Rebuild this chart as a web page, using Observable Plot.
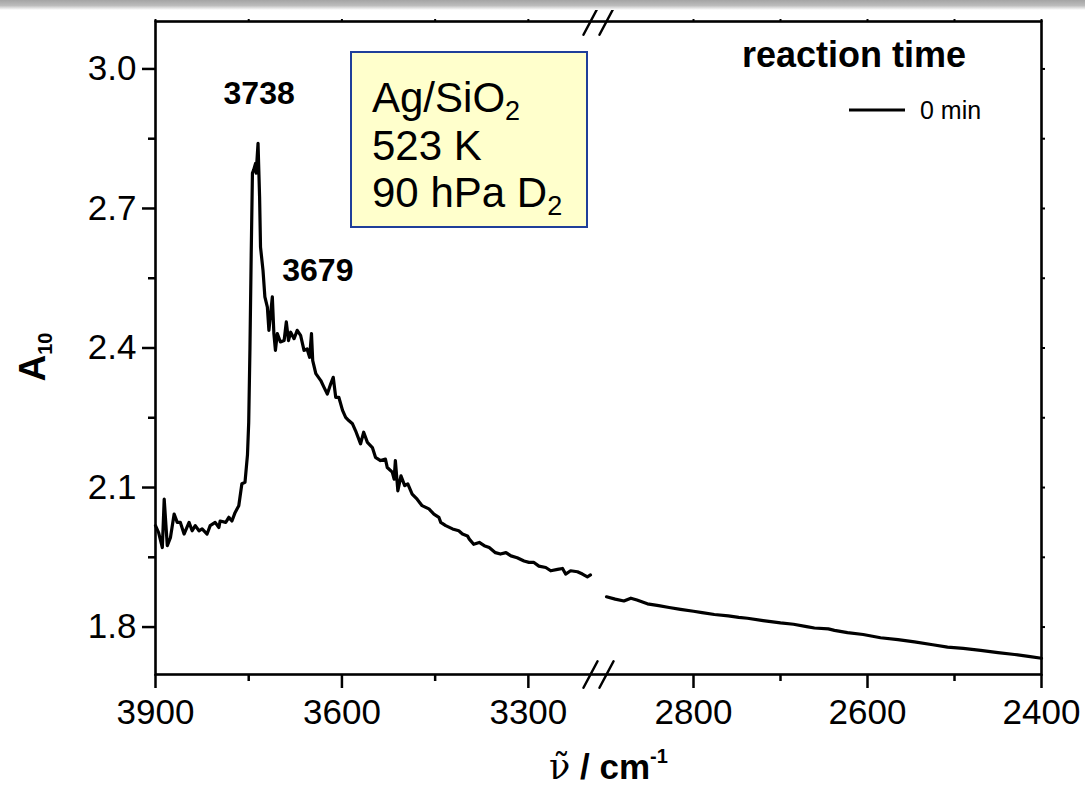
<!DOCTYPE html>
<html><head><meta charset="utf-8">
<script src="https://cdn.jsdelivr.net/npm/d3@7"></script>
<script src="https://cdn.jsdelivr.net/npm/@observablehq/plot@0.6"></script>
<style>
html,body{margin:0;padding:0;background:#fff;}
#wrap{position:relative;width:1085px;height:787px;overflow:hidden;background:#fff;}
#topbar{position:absolute;left:0;top:0;width:1085px;height:10px;background:linear-gradient(to bottom,#a4a4a4 0%,#bcbcbc 55%,#ffffff 100%);}
</style></head><body>
<div id="wrap"><div id="chart"></div><div id="topbar"></div></div>
<script>
// ---- data ----
const wnLeft = [3900,3895,3889,3886,3881,3876,3870,3865,3860,3854,3846,3841,3836,3830,3825,3817,3812,3804,3798,3796,3787,3782,3777,3772,3766,3761,3756,3752,3750,3748,3746,3744,3742,3739,3738,3735,3732.5,3731,3727,3724,3720,3717.5,3712,3709.5,3707,3704,3699,3693,3689.5,3686,3682.5,3677,3672,3666.5,3661,3656,3652,3649,3647,3642,3634,3629,3623.5,3618,3614,3610,3605,3599,3594,3589,3583,3578,3570,3565,3559,3551,3546,3538,3530,3527,3519,3516,3514,3510,3505,3499,3494,3487,3479,3471,3460,3452,3444,3441,3433,3422,3412,3406,3398,3395,3388,3379,3371,3363,3353,3345,3336,3328,3318,3307,3299,3291,3283,3272,3264,3253,3245,3240,3232,3221,3213,3205,3200];
const absLeft = [2.018,2.003,1.971,2.075,1.975,1.992,2.043,2.025,2.025,2.000,2.025,2.007,2.018,2.007,2.011,2.000,2.018,2.025,2.014,2.028,2.025,2.036,2.028,2.046,2.061,2.108,2.111,2.170,2.240,2.400,2.600,2.776,2.783,2.797,2.776,2.840,2.725,2.617,2.567,2.510,2.488,2.438,2.510,2.431,2.395,2.431,2.413,2.416,2.456,2.416,2.434,2.420,2.438,2.427,2.395,2.398,2.380,2.431,2.373,2.345,2.330,2.316,2.301,2.323,2.337,2.294,2.294,2.266,2.251,2.244,2.237,2.222,2.194,2.219,2.197,2.186,2.165,2.158,2.161,2.143,2.133,2.118,2.158,2.093,2.125,2.104,2.108,2.086,2.075,2.061,2.054,2.043,2.036,2.025,2.018,2.011,2.007,2.000,1.996,1.989,1.978,1.982,1.975,1.971,1.960,1.957,1.960,1.953,1.949,1.942,1.939,1.939,1.931,1.928,1.921,1.924,1.926,1.914,1.921,1.919,1.914,1.908,1.912];
const wnRight = [2900,2890,2880,2872,2865,2853,2840,2828,2815,2800,2790,2776,2760,2748,2738,2720,2700,2685,2670,2661,2645,2638,2623,2605,2585,2565,2546,2525,2508,2490,2470,2450,2431,2415,2400];
const absRight = [1.865,1.860,1.856,1.862,1.858,1.850,1.846,1.842,1.838,1.834,1.831,1.827,1.824,1.821,1.819,1.814,1.809,1.806,1.801,1.798,1.796,1.793,1.788,1.784,1.777,1.773,1.768,1.762,1.757,1.754,1.750,1.745,1.741,1.737,1.733];
const segmentNames = ["3900-3200", "2900-2400"];
const xBreakDomain = [3900, 3200, 2900, 2400];
const xTicksMajor = [3900, 3600, 3300, 2800, 2600, 2400];
const xTicksMinor = [3750, 3450, 2700, 2500];
const yTicksMajor = [1.8, 2.1, 2.4, 2.7, 3.0];
const yTicksMinor = [1.95, 2.25, 2.55, 2.85];
const peakWn = [3738, 3679];
const peakAbs = [2.84, 2.43];
const peakLabels = ["3738", "3679"];
const legendTitle = "reaction time";
const legendLabels = ["0 min"];
const infoLines = [["Ag/SiO", "2"], ["523 K", ""], ["90 hPa D", "2"]];

// ---- table ----
const spectrum = [
  ...wnLeft.map((w, i) => ({wn: w, a: absLeft[i], seg: segmentNames[0]})),
  ...wnRight.map((w, i) => ({wn: w, a: absRight[i], seg: segmentNames[1]}))
];
const peaks = peakWn.map((w, i) => ({wn: w, a: peakAbs[i], label: peakLabels[i]}));
const yDomain = [1.698, 3.102];
const breaks = [];
for (const xb of [xBreakDomain[1], xBreakDomain[2]]) for (const yb of yDomain) breaks.push({x: xb, y: yb});

const font = "'Liberation Sans', Arial, Helvetica, sans-serif";
const chart = Plot.plot({
  width: 1085, height: 787,
  marginTop: 21, marginBottom: 113, marginLeft: 155, marginRight: 44,
  style: {fontFamily: font, fontSize: "34px", color: "black", background: "transparent", overflow: "visible"},
  x: {type: "linear", domain: xBreakDomain, range: [155, 590, 606, 1041]},
  y: {domain: yDomain},
  marks: [
    Plot.axisX(xTicksMajor, {anchor: "bottom", tickSize: 14, tickPadding: 11, strokeWidth: 2.5, tickFormat: d => String(d), fontSize: 35, label: null}),
    Plot.axisX(xTicksMinor, {anchor: "bottom", tickSize: 7, strokeWidth: 2.5, tickFormat: () => "", label: null}),
    Plot.axisX([...xTicksMajor, ...xTicksMinor], {anchor: "top", tickSize: 3, strokeWidth: 2, tickFormat: () => "", label: null}),
    Plot.axisY(yTicksMajor, {anchor: "left", tickSize: 13, tickPadding: 6, strokeWidth: 2.5, tickFormat: d => d.toFixed(1), fontSize: 35, label: null}),
    Plot.axisY(yTicksMinor, {anchor: "left", tickSize: 7, strokeWidth: 2.5, tickFormat: () => "", label: null}),
    Plot.axisY([...yTicksMajor, ...yTicksMinor], {anchor: "right", tickSize: 3, strokeWidth: 2, tickFormat: () => "", label: null}),
    Plot.frame({stroke: "black", strokeWidth: 2.6}),
    Plot.line(spectrum, {x: "wn", y: "a", z: "seg", stroke: "black", strokeWidth: 3.2, strokeLinejoin: "round"}),
    Plot.text(peaks.slice(0, 1), {x: "wn", y: "a", text: "label", fontWeight: "bold", fontSize: 32, dx: 3, dy: -50}),
    Plot.text(peaks.slice(1), {x: "wn", y: "a", text: "label", fontWeight: "bold", fontSize: 32, dx: 25, dy: -63}),
    Plot.vector(breaks, {x: "x", y: "y", length: 30, rotate: 28, anchor: "middle", r: 0, stroke: "black", strokeWidth: 2.5})
  ]
});
document.getElementById("chart").appendChild(chart);

// ---- annotations ----
const svg = d3.select(chart);
// info box
const box = svg.append("g").attr("text-anchor", "start");
box.append("rect").attr("x", 351).attr("y", 52).attr("width", 236).attr("height", 175)
  .attr("fill", "#ffffcc").attr("stroke", "#1f3f9a").attr("stroke-width", 2);
const baselines = [112, 160, 207];
infoLines.forEach((ln, i) => {
  const t = box.append("text").attr("x", 372).attr("y", baselines[i]).attr("text-anchor", "start")
    .attr("font-family", font).attr("font-size", 42).attr("fill", "black");
  t.append("tspan").text(ln[0]);
  if (ln[1]) t.append("tspan").attr("font-size", 27).attr("dy", 8).text(ln[1]);
});
// legend
const lg = svg.append("g").attr("text-anchor", "start");
lg.append("text").attr("x", 742).attr("y", 67).attr("text-anchor", "start").attr("font-family", font)
  .attr("font-weight", "bold").attr("font-size", 36).text(legendTitle);
lg.append("line").attr("x1", 849).attr("x2", 905).attr("y1", 110).attr("y2", 110)
  .attr("stroke", "black").attr("stroke-width", 3);
lg.append("text").attr("x", 920).attr("y", 119).attr("text-anchor", "start").attr("font-family", font)
  .attr("font-size", 25).text(legendLabels[0]);
// y title
const yt = svg.append("text").attr("transform", "translate(45,357) rotate(-90)")
  .attr("text-anchor", "middle").attr("font-family", font).attr("font-weight", "bold").attr("font-size", 37);
yt.append("tspan").text("A");
yt.append("tspan").attr("font-size", 20).attr("dy", 7).text("10");
// x title
const xt = svg.append("text").attr("x", 549).attr("y", 779).attr("text-anchor", "start").attr("font-family", font)
  .attr("font-weight", "bold").attr("font-size", 35);
xt.append("tspan").attr("font-family", "'DejaVu Serif', serif").attr("font-weight", "normal").text("\u03BD\u0303");
xt.append("tspan").text(" / cm");
xt.append("tspan").attr("font-size", 20).attr("dy", -16).text("-1");
</script>
</body></html>
